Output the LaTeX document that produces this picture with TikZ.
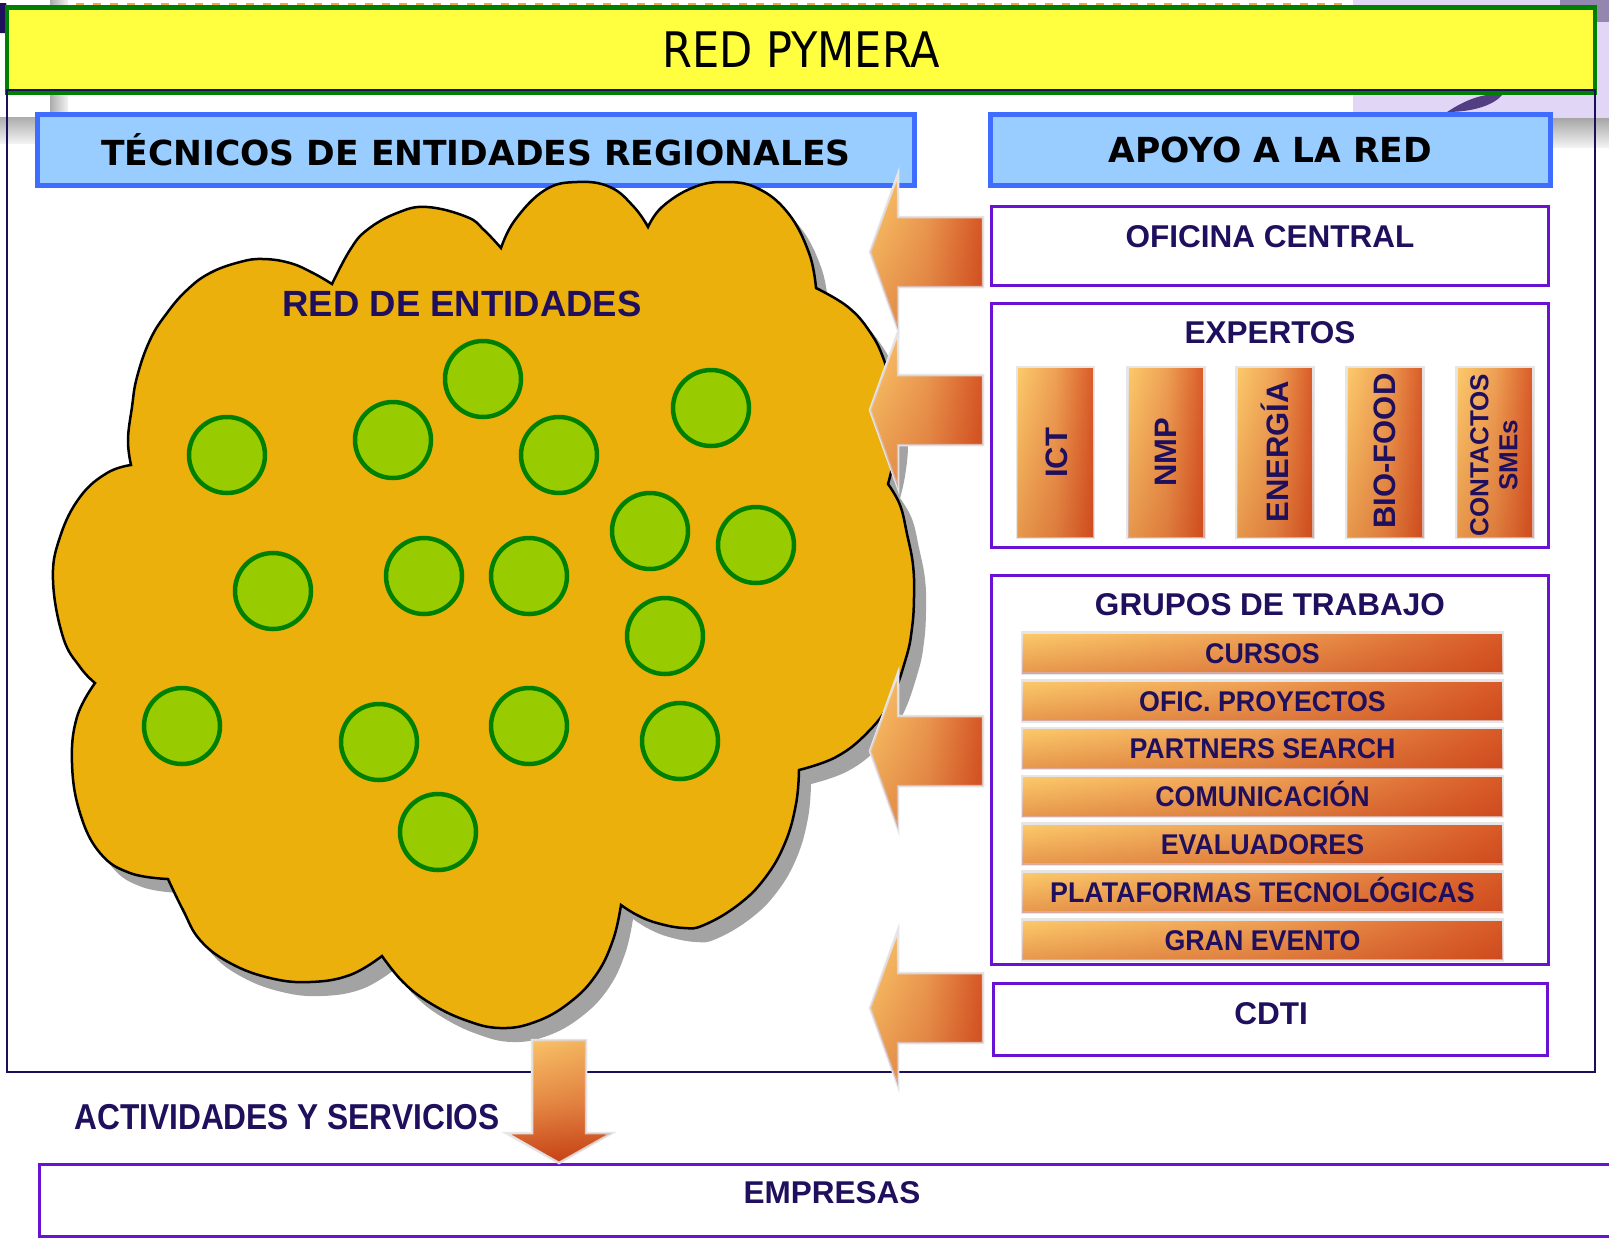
\documentclass[tikz,border=0pt]{standalone}
\usepackage{fontspec}
\setmainfont{Liberation Sans}
\newfontfamily\narrowfont{Liberation Sans}[FakeStretch=0.94]
\newfontfamily\narrowerfont{Liberation Sans}[FakeStretch=0.88]
\newfontfamily\headfont{DejaVu Sans}
\newfontfamily\titlefont{DejaVu Sans}[FakeStretch=0.88]
\usetikzlibrary{calc,fadings}
\definecolor{navy}{HTML}{1F0F5C}
\definecolor{framec}{HTML}{1A0F5A}
\definecolor{ttlfill}{HTML}{FFFF40}
\definecolor{ttlgreen}{HTML}{008000}
\definecolor{bluefill}{HTML}{99CCFF}
\definecolor{blueline}{HTML}{3F6DFF}
\definecolor{purp}{HTML}{6A12D4}
\definecolor{cloudfill}{HTML}{ECB00C}
\definecolor{dotfill}{HTML}{99CC00}
\definecolor{dotline}{HTML}{008000}
\definecolor{shad}{HTML}{A3A3A3}
\definecolor{orL}{HTML}{FDCB6C}
\definecolor{orMid}{HTML}{EFA256}
\definecolor{orR}{HTML}{D95A28}
\definecolor{orDark}{HTML}{B82A08}
\definecolor{orM}{HTML}{E9904A}
\definecolor{orD}{HTML}{C84418}
\definecolor{rimgray}{HTML}{E6E6E6}
\definecolor{lav}{HTML}{E2D6F6}
\definecolor{lavdark}{HTML}{3A2470}
\definecolor{dashor}{HTML}{F4A640}
\newcommand\fs[1]{\fontsize{#1}{#1}\selectfont}
\newcommand\cloudshape[1]{%
\path[#1]
 plot[smooth,tension=0.7] coordinates {(332,284) (350,250) (367,230) (397,213) (427,207) (467,217) (484,230) (501,248)}
 -- plot[smooth,tension=0.7] coordinates {(501,248) (515,220) (545,190) (577,182) (610,187) (634,207) (648,227)}
 -- plot[smooth,tension=0.7] coordinates {(648,227) (662,207) (692,188) (723,182) (757,188) (788,213) (809,253) (816,288)}
 -- plot[smooth,tension=0.7] coordinates {(816,288) (848,307) (870,332) (884,360) (893,395) (896,430) (893,462) (888,484)}
 -- plot[smooth,tension=0.7] coordinates {(888,484) (900,505) (907,534) (913,565) (914,597) (912,628) (906,658) (890,702) (867,733) (836,757) (799,770)}
 -- plot[smooth,tension=0.7] coordinates {(799,770) (796,804) (785,843) (765,878) (738,905) (704,925) (684,928) (657,923) (637,915) (621,905)}
 -- plot[smooth,tension=0.7] coordinates {(621,905) (613,940) (596,975) (569,1003) (535,1022) (500,1028) (465,1020) (430,1003) (403,982) (382,956)}
 -- plot[smooth,tension=0.7] coordinates {(382,956) (350,975) (310,982) (270,978) (230,963) (200,940) (183,910) (168,879)}
 -- plot[smooth,tension=0.7] coordinates {(168,879) (130,873) (100,853) (80,813) (72,763) (77,717) (95,683)}
 -- plot[smooth,tension=0.7] coordinates {(95,683) (80,667) (63,637) (53,580) (60,537) (80,497) (107,473) (131,465)}
 -- plot[smooth,tension=0.7] coordinates {(131,465) (128,440) (132,407) (137,377) (150,340) (167,313) (187,290) (210,273) (240,262) (263,259) (290,263) (313,273) (332,284)}
 -- cycle;}
\newcommand\leftarrowshape[1]{%
\path[blockarrow] (983,{#1-35}) -- (898,{#1-35}) -- (898,{#1-78}) -- (870,#1) -- (898,{#1+78}) -- (898,{#1+35}) -- (983,{#1+35}) -- cycle;}
\begin{document}
\begin{tikzpicture}[x=1pt,y=-1pt,
  grad/.style={left color=orL, right color=orR, middle color=orMid,
    postaction={path fading=north, fill=orDark, fill opacity=0.32}},
  blockarrow/.style={draw=rimgray, line width=2.5pt, grad},
  purpbox/.style={draw=purp, line width=3pt, fill=white, inner sep=0pt},
  bluebox/.style={draw=blueline, line width=5pt, fill=bluefill, inner sep=0pt, minimum height=71pt,
    font=\headfont\bfseries\fs{34.5}, text=black},
  navytext/.style={text=navy, font=\bfseries\fs{31.5}, inner sep=0pt},
  dot/.style={circle, draw=dotline, line width=4.5pt, fill=dotfill, minimum size=76pt, inner sep=0pt},
  tile/.style={draw=rimgray, line width=2.5pt, grad, minimum width=77pt, minimum height=171pt, inner sep=0pt},
  tiletext/.style={text=navy, font=\bfseries\fs{31}, rotate=90, inner sep=0pt},
  bar/.style={draw=rimgray, line width=2.5pt, grad, minimum width=481pt, minimum height=41pt, inner sep=0pt},
  bartext/.style={text=navy, font=\narrowfont\bfseries\fs{28.5}, text height=20.5pt, text depth=0pt, inner sep=0pt}]
\useasboundingbox (0,0) rectangle (1609,1240);
\fill[white] (0,0) rectangle (1609,1240);
% background remnants
\fill[lav] (1353,0) rectangle (1609,118);
\fill[lavdark!55] (1560,0) rectangle (1609,22);
\fill[lavdark, opacity=0.85] (1447,112) .. controls (1465,100) and (1485,92) .. (1502,95) .. controls (1495,104) and (1475,112) .. (1447,112) -- cycle;
\shade[top color=gray!70, bottom color=gray!10] (1553,118) rectangle (1609,147);
\shade[left color=gray!65, right color=gray!10] (50,0) rectangle (68,112);
\shade[top color=gray!65, bottom color=gray!10] (0,117) rectangle (36,143);
\draw[dashor, line width=3pt, dash pattern=on 8pt off 9pt] (76,4) -- (1350,4);
\fill[navy] (0,3) -- (6,3) -- (8,10) -- (8,33) -- (0,33) -- cycle;
% title
\node[draw=ttlgreen, line width=4.5pt, fill=ttlfill, minimum width=1588pt, minimum height=85pt, inner sep=0pt] (title) at (801,50) {};
\node[font=\titlefont\fs{49}, text=black, inner sep=0pt] (titletext) at (801,50) {RED PYMERA};
% frame
\node[draw=framec, line width=2.5pt, minimum width=1588pt, minimum height=982pt, inner sep=0pt] (frame) at (801,581) {};
% headers
\node[bluebox, minimum width=877pt] (tecnicos) at (476,150) {TÉCNICOS DE ENTIDADES REGIONALES};
\node[bluebox, minimum width=560pt] (apoyo) at (1270.5,150) {APOYO A LA RED};
% cloud
\cloudshape{fill=shad, shift={(12,14)}}
\cloudshape{fill=cloudfill, draw=black, line width=2.5pt}
\node[navytext, font=\bfseries\fs{36.5}] (redlbl) at (462,304) {RED DE ENTIDADES};
\foreach \n/\x/\y in {1/227/455, 2/393/440, 3/483/379, 4/559/455, 5/711/408, 6/650/531, 7/756/545, 8/273/591,
  9/424/576, 10/529/576, 11/665/636, 12/182/726, 13/379/742, 14/529/726, 15/680/741, 16/438/832}
  \node[dot] (c\n) at (\x,\y) {};
% right column boxes
\node[purpbox, minimum width=557pt, minimum height=79pt] (oficina) at (1270,246) {};
\node[navytext] (oficinatext) at (1270,237) {OFICINA CENTRAL};
\node[purpbox, minimum width=557pt, minimum height=244pt] (expertos) at (1270,425.5) {};
\node[navytext] (expertostext) at (1270,333) {EXPERTOS};
\foreach \n/\x in {1/1055.5, 2/1166, 3/1275, 4/1385, 5/1495}
  \node[tile] (t\n) at (\x,452.5) {};
\node[tiletext] (ict) at (1057,453) {ICT};
\node[tiletext] (nmp) at (1166,452) {NMP};
\node[tiletext] (energia) at (1275,452) {ENERGÍA};
\node[tiletext] (biofood) at (1385,451) {BIO-FOOD};
\node[tiletext, font=\bfseries\fontsize{26}{29}\selectfont, align=center] (contactos) at (1494,455) {CONTACTOS\\SMEs};
\node[purpbox, minimum width=557pt, minimum height=389pt] (grupos) at (1270,770) {};
\node[navytext] (grupostext) at (1270,605) {GRUPOS DE TRABAJO};
\foreach \i/\t in {0/CURSOS, 1/OFIC. PROYECTOS, 2/PARTNERS SEARCH, 3/COMUNICACIÓN, 4/EVALUADORES,
  5/PLATAFORMAS TECNOLÓGICAS, 6/GRAN EVENTO}{
  \node[bar] (g\i) at (1262.5,{653+47.8*\i}) {};
  \node[bartext] (gt\i) at (g\i) {\t};}
\node[purpbox, minimum width=554pt, minimum height=72pt] (cdti) at (1270.5,1019.5) {};
\node[navytext] (cdtitext) at (1271,1014) {CDTI};
% block arrows toward the network
\leftarrowshape{252}
\leftarrowshape{410}
\leftarrowshape{751}
\leftarrowshape{1008}
% bottom
\node[purpbox, minimum width=1585pt, minimum height=72pt] (empresas) at (832,1200.5) {};
\node[navytext] (empresastext) at (832,1193) {EMPRESAS};
\path[draw=rimgray, line width=2.5pt, top color=orL, bottom color=orD, middle color=orM,
  postaction={path fading=west, fill=orDark, fill opacity=0.2}]
  (532,1040) -- (586,1040) -- (586,1133) -- (612,1133) -- (559,1163) -- (506,1133) -- (532,1133) -- cycle;
\node[navytext, font=\narrowerfont\bfseries\fs{36}] (actividades) at (287,1117) {ACTIVIDADES Y SERVICIOS};
\end{tikzpicture}
\end{document}
